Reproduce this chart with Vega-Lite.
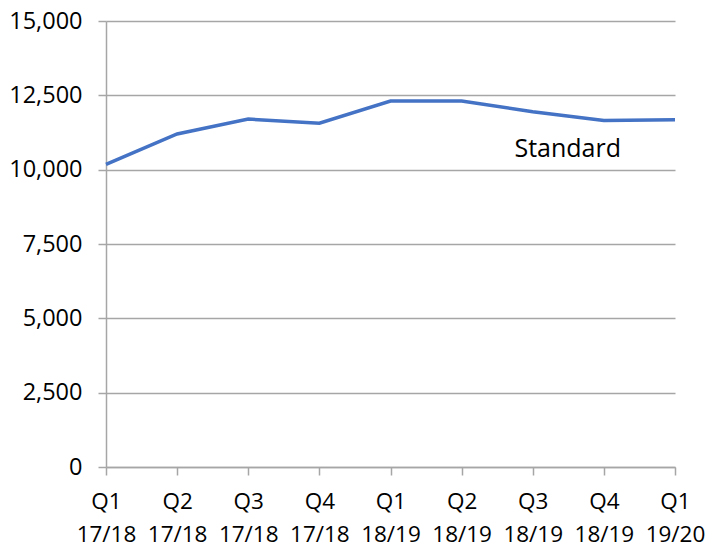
{
  "$schema": "https://vega.github.io/schema/vega-lite/v6.json",
  "autosize": {"type": "none"},
  "width": 569,
  "height": 446,
  "padding": {"left": 106, "top": 21, "right": 35, "bottom": 81},
  "background": "white",
  "config": {
    "view": {"stroke": null},
    "font": "Open Sans"
  },
  "datasets": {
    "series": [
      {"quarter": "Q1 17/18", "value": 10180},
      {"quarter": "Q2 17/18", "value": 11200},
      {"quarter": "Q3 17/18", "value": 11700},
      {"quarter": "Q4 17/18", "value": 11560},
      {"quarter": "Q1 18/19", "value": 12310},
      {"quarter": "Q2 18/19", "value": 12310},
      {"quarter": "Q3 18/19", "value": 11950},
      {"quarter": "Q4 18/19", "value": 11650},
      {"quarter": "Q1 19/20", "value": 11680}
    ],
    "labels": [
      {"quarter": "Q3 18/19", "value": 10700, "text": "Standard"}
    ]
  },
  "layer": [
    {
      "data": {"name": "series"},
      "mark": {"type": "line", "color": "#4472C4", "strokeWidth": 3.5},
      "encoding": {
        "x": {
          "field": "quarter", "type": "ordinal", "sort": null,
          "scale": {"type": "point", "padding": 0},
          "axis": {
            "title": null, "labelAngle": 0,
            "labelExpr": "split(datum.label, ' ')",
            "labelFontSize": 22.5, "labelColor": "#000000",
            "labelLineHeight": 33, "labelPadding": 15,
            "tickSize": 8, "tickColor": "#a6a6a6", "domainColor": "#a6a6a6",
            "domainWidth": 1.5, "tickWidth": 1.5, "grid": false
          }
        },
        "y": {
          "field": "value", "type": "quantitative",
          "scale": {"domain": [0, 15000], "nice": false},
          "axis": {
            "title": null, "values": [0, 2500, 5000, 7500, 10000, 12500, 15000],
            "format": ",.0f", "labelFontSize": 23.5, "labelColor": "#000000",
            "labelPadding": 16, "tickSize": 8, "tickColor": "#a6a6a6",
            "domainColor": "#a6a6a6", "domainWidth": 1.5, "tickWidth": 1.5,
            "gridColor": "#a6a6a6", "gridWidth": 1.5
          }
        }
      }
    },
    {
      "data": {"name": "labels"},
      "mark": {"type": "text", "fontSize": 25, "color": "#000000", "align": "center", "baseline": "middle", "dx": 35},
      "encoding": {
        "x": {"field": "quarter", "type": "ordinal", "sort": null},
        "y": {"field": "value", "type": "quantitative"},
        "text": {"field": "text"}
      }
    }
  ]
}
